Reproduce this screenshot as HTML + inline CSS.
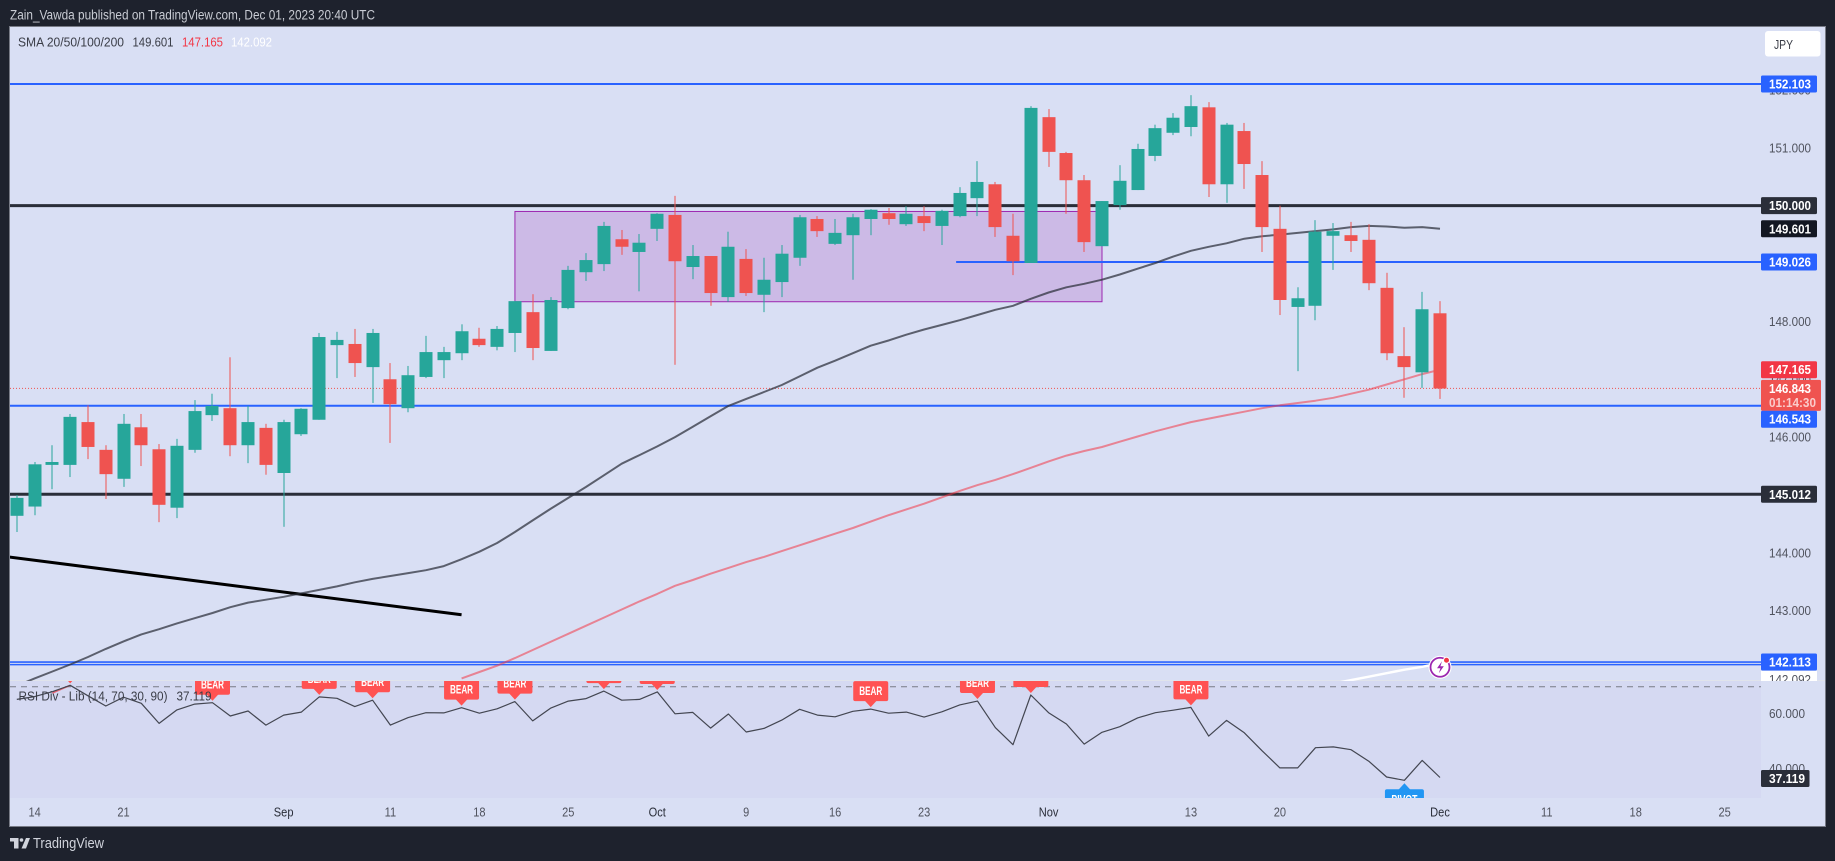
<!DOCTYPE html>
<html lang="en">
<head>
<meta charset="utf-8">
<title>USD/JPY chart</title>
<style>
html,body{margin:0;padding:0;background:#1e222d;width:1835px;height:861px;overflow:hidden}
svg{display:block;font-family:"Liberation Sans",sans-serif}
.tick{font-size:13px;fill:#50535e;text-anchor:start}
.tag{font-size:13px;fill:#ffffff;font-weight:bold}
.time{font-size:13px;fill:#50535e;text-anchor:middle}
.time-major{font-size:13px;fill:#2a2e39;text-anchor:middle}
</style>
</head>
<body>
<svg id="chart" xmlns="http://www.w3.org/2000/svg" width="1835" height="861" viewBox="0 0 1835 861">
  <defs>
    <clipPath id="main-clip"><rect x="10" y="27" width="1751" height="654"/></clipPath>
    <clipPath id="rsi-clip"><rect x="10" y="681" width="1751" height="117"/></clipPath>
    <clipPath id="axis-clip"><rect x="1761" y="27" width="64" height="654"/></clipPath>
  </defs>
  <rect x="0" y="0" width="1835" height="861" fill="#1e222d"/>
  <text x="10" y="19.5" font-size="13.5" fill="#c9ccd4" textLength="365" lengthAdjust="spacingAndGlyphs">Zain_Vawda published on TradingView.com, Dec 01, 2023 20:40 UTC</text>
  <rect x="9.5" y="26.5" width="1816" height="800" fill="#d9dff4" stroke="#787b86" stroke-width="1"/>
  <rect x="10" y="681" width="1751" height="117" fill="#d5d9f2"/>
  <line x1="10" x2="1825" y1="680.5" y2="680.5" stroke="#e0e3eb" stroke-width="1"/>
  <g id="main-pane" clip-path="url(#main-clip)"></g>
  <g id="rsi-pane" clip-path="url(#rsi-clip)"></g>
  <g id="price-axis"></g>
  <g id="time-axis"></g>

  <g font-size="13">
    <text x="18" y="46.5" fill="#3a3d47" textLength="106" lengthAdjust="spacingAndGlyphs">SMA 20/50/100/200</text>
    <text x="132.5" y="46.5" fill="#3a3d47" textLength="41" lengthAdjust="spacingAndGlyphs">149.601</text>
    <text x="182" y="46.5" fill="#f23645" textLength="41" lengthAdjust="spacingAndGlyphs">147.165</text>
    <text x="231" y="46.5" fill="#ffffff" textLength="41" lengthAdjust="spacingAndGlyphs">142.092</text>
  </g>
  <g font-size="13" fill="#3a3d47">
    <text x="18.5" y="700.5" textLength="149" lengthAdjust="spacingAndGlyphs">RSI Div - Lib (14, 70, 30, 90)</text>
    <text x="176.5" y="700.5" textLength="35" lengthAdjust="spacingAndGlyphs">37.119</text>
  </g>

  <g>
    <rect x="1765" y="31" width="55.5" height="25.5" rx="3" fill="#ffffff"/>
    <text x="1774" y="49" font-size="13" fill="#3a3d47" textLength="19" lengthAdjust="spacingAndGlyphs">JPY</text>
  </g>

  <g>
    <path d="M10 838H18.5V848.5H14V841.5H10ZM26 838H30L26 848.5H21.5Z" fill="#d1d4dc"/>
    <circle cx="21.5" cy="840" r="1.8" fill="#d1d4dc"/>
    <text x="33" y="848" font-size="15" fill="#d1d4dc" textLength="71" lengthAdjust="spacingAndGlyphs">TradingView</text>
  </g>
</svg>
<script>
// Price series, one entry per daily bar beginning 11 Aug 2023 (bar index -1)
const firstBar = -1;
const opens = [144.64,144.80,145.52,145.52,146.26,145.78,145.28,146.17,145.79,144.78,145.78,146.38,146.50,145.86,146.16,145.38,146.05,146.30,147.59,147.61,147.21,147.00,146.50,147.04,147.33,147.45,147.70,147.56,147.80,148.16,147.49,148.23,148.85,148.99,149.42,149.20,149.60,149.84,148.94,149.13,148.42,149.08,148.46,148.68,149.10,149.77,149.34,149.49,149.77,149.87,149.68,149.82,149.65,149.82,150.13,150.37,149.48,149.01,151.53,150.91,150.44,149.30,150.01,150.27,150.86,151.26,151.36,151.70,150.37,151.29,150.53,149.60,148.25,148.27,149.48,149.49,149.41,148.58,147.40,147.12,148.14];
const highs = [145.00,145.57,145.86,146.40,146.55,145.86,146.40,146.40,145.88,145.97,146.64,146.75,147.38,146.54,146.23,146.30,146.50,147.80,147.82,147.87,147.87,147.28,147.23,147.75,147.56,147.95,147.89,147.92,148.35,148.47,148.42,148.96,149.18,149.72,149.58,149.51,149.87,150.17,149.32,149.13,149.55,149.25,149.10,149.32,149.84,149.82,149.77,149.86,149.94,149.96,149.99,149.99,149.93,150.32,150.77,150.41,149.86,151.72,151.67,150.93,150.53,150.08,150.70,151.07,151.40,151.60,151.91,151.79,151.43,151.43,150.77,150.00,148.59,149.75,149.70,149.72,149.68,148.84,147.90,148.51,148.35];
const lows = [144.36,144.65,145.10,145.31,145.62,144.93,145.14,145.50,144.53,144.60,145.73,146.28,145.67,145.55,145.35,144.45,146.02,146.30,147.02,147.04,146.59,145.90,146.43,147.02,147.02,147.33,147.56,147.50,147.47,147.33,147.49,148.21,148.70,148.87,149.15,148.52,149.39,147.25,148.73,148.27,148.34,148.44,148.16,148.42,148.96,149.46,149.32,148.72,149.49,149.67,149.65,149.56,149.32,149.80,149.82,149.46,148.80,149.01,150.67,149.86,149.20,149.30,149.93,150.27,150.77,151.22,151.20,150.15,150.05,150.29,149.20,148.11,147.14,148.02,148.89,149.20,148.54,147.33,146.68,146.85,146.66];
const closes = [144.95,145.53,145.57,146.35,145.83,145.36,146.23,145.86,144.83,145.85,146.45,146.54,145.86,146.26,145.52,146.26,146.49,147.73,147.68,147.28,147.80,146.57,147.07,147.47,147.47,147.83,147.59,147.87,148.35,147.54,148.37,148.89,149.06,149.65,149.29,149.36,149.86,149.04,149.13,148.49,149.29,148.49,148.72,149.17,149.80,149.56,149.53,149.80,149.93,149.77,149.86,149.70,149.91,150.22,150.41,149.63,149.04,151.69,150.93,150.44,149.37,150.08,150.43,150.98,151.34,151.52,151.72,150.37,151.40,150.72,149.63,148.37,148.40,149.55,149.56,149.39,148.66,147.45,147.21,148.21,146.84];

// Moving averages
const sma50Start = -1;
const sma50 = [141.70,141.83,141.95,142.07,142.20,142.34,142.47,142.59,142.68,142.78,142.87,142.96,143.06,143.14,143.19,143.24,143.30,143.36,143.42,143.49,143.55,143.60,143.65,143.70,143.77,143.89,144.02,144.17,144.36,144.56,144.76,144.95,145.14,145.34,145.54,145.69,145.84,146.00,146.18,146.36,146.54,146.66,146.78,146.90,147.05,147.20,147.32,147.45,147.58,147.67,147.77,147.86,147.94,148.02,148.11,148.20,148.27,148.39,148.50,148.59,148.65,148.72,148.81,148.91,149.01,149.12,149.22,149.29,149.35,149.43,149.47,149.50,149.53,149.56,149.59,149.63,149.65,149.64,149.62,149.63,149.601];
const sma100Start = 24;
const sma100 = [141.83,141.94,142.05,142.18,142.32,142.46,142.60,142.74,142.88,143.02,143.16,143.29,143.43,143.53,143.64,143.74,143.84,143.93,144.03,144.13,144.23,144.33,144.43,144.54,144.65,144.75,144.85,144.96,145.07,145.17,145.26,145.36,145.47,145.58,145.68,145.76,145.83,145.92,146.01,146.10,146.18,146.26,146.32,146.38,146.44,146.50,146.55,146.59,146.63,146.68,146.75,146.82,146.91,147.00,147.09,147.165];
const sma200Start = 73;
const sma200 = [141.74,141.80,141.86,141.92,141.98,142.03,142.092];

// RSI series and divergence markers
const rsiStart = -1;
const rsiValues = [65.4,66.4,68.2,70.5,66.7,63.0,66.2,64.0,56.7,61.6,63.7,64.2,59.4,61.2,56.1,59.7,60.8,66.3,65.8,62.8,65.1,56.1,58.8,60.6,60.5,62.4,60.4,62.0,64.6,57.6,62.2,64.8,65.7,68.4,65.1,65.4,68.1,60.2,60.7,55.0,60.1,53.6,54.9,57.9,61.8,59.7,59.1,61.1,61.9,60.4,60.8,59.0,60.9,63.4,64.8,55.2,49.0,67.0,60.6,56.5,49.2,53.5,55.5,58.7,60.6,61.5,62.5,52.1,57.8,53.3,46.8,40.6,40.6,47.9,48.2,47.2,43.0,37.3,36.1,43.3,37.119];
const bearBars = [2,10,16,19,24,27,32,35,47,53,56,65];
const pivotBars = [77];
const divergenceBars = [1,2];
const divergenceValues = [67.7,70.5];

// Axis ticks and labels
const priceTicks = [152,151,150,149,148,147,146,145,144,143];
const rsiTicks = [60,40];
const timeTickBars = [0,5,20,25,30,40,45,50,65,70,85,90,95];
const timeTickLabels = ['14','21','11','18','25','9','16','23','13','20','11','18','25'];
const monthTickBars = [14,35,57,79];
const monthTickLabels = ['Sep','Oct','Nov','Dec'];

// Drawn levels and the trend line
const blueLevels = [152.103,146.543];
const shortBlueLevelPrice = 149.026;
const shortBlueStartBar = 51.8;
const darkLevels = [150,145.012];
const doubleBlueLevels = [142.113,142.068];
const rangeStartBar = 27;
const rangeEndBar = 60;
const rangeTop = 149.90;
const rangeBottom = 148.34;
const trendBars = [-2,24];
const trendPrices = [143.95,142.93];
const lastPrice = 146.843;

const X_ORIGIN = 34.6, BAR_STEP = 17.79;
function xOf(bar){ return X_ORIGIN + BAR_STEP * bar; }
function yOf(price){ return 84 + (152.103 - price) * 57.86; }
function yRsi(value){ return 686.7 + (70 - value) * 2.761; }

const NS = 'http://www.w3.org/2000/svg';
function make(tag, attrs, parent, text){
  const el = document.createElementNS(NS, tag);
  for (const k in attrs) el.setAttribute(k, attrs[k]);
  if (text !== undefined) el.textContent = text;
  parent.appendChild(el);
  return el;
}
function squeeze(el){
  el.setAttribute('textLength', (el.getComputedTextLength() * 0.85).toFixed(1));
  el.setAttribute('lengthAdjust', 'spacingAndGlyphs');
}

const mainPane = document.getElementById('main-pane');
const rsiPane = document.getElementById('rsi-pane');
const priceAxis = document.getElementById('price-axis');
const timeAxis = document.getElementById('time-axis');

// consolidation range
const rangeBox = make('rect', {x:xOf(rangeStartBar), y:yOf(rangeTop), width:xOf(rangeEndBar)-xOf(rangeStartBar), height:yOf(rangeBottom)-yOf(rangeTop), fill:'#9c27b0', 'fill-opacity':'0.2', stroke:'#9c27b0', 'stroke-width':'1'}, mainPane);



// horizontal levels
blueLevels.forEach(function(p){
  const l = make('line', {x1:10, x2:1761, y1:yOf(p), y2:yOf(p), stroke:'#2962ff', 'stroke-width':'2'}, mainPane);
  
  
});
const shortLevel = make('line', {x1:xOf(shortBlueStartBar), x2:1761, y1:yOf(shortBlueLevelPrice), y2:yOf(shortBlueLevelPrice), stroke:'#2962ff', 'stroke-width':'2'}, mainPane);


doubleBlueLevels.forEach(function(p){
  const l = make('line', {x1:10, x2:1761, y1:yOf(p), y2:yOf(p), stroke:'#2962ff', 'stroke-width':'1.6'}, mainPane);
  
  
});
darkLevels.forEach(function(p){
  const l = make('line', {x1:10, x2:1761, y1:yOf(p), y2:yOf(p), stroke:'#2a2e39', 'stroke-width':'3'}, mainPane);
  
  
});
const lastLine = make('line', {x1:10, x2:1761, y1:yOf(lastPrice), y2:yOf(lastPrice), stroke:'#ef5350', 'stroke-width':'1', 'stroke-dasharray':'1 2'}, mainPane);



const trend = make('line', {x1:xOf(trendBars[0]), x2:xOf(trendBars[1]), y1:yOf(trendPrices[0]), y2:yOf(trendPrices[1]), stroke:'#000000', 'stroke-width':'3'}, mainPane);



// moving averages
function linePoints(values, start, yFn){
  return values.map(function(v, i){ return xOf(start + i).toFixed(1) + ',' + yFn(v).toFixed(1); }).join(' ');
}
const sma50Line = make('polyline', {points:linePoints(sma50, sma50Start, yOf), fill:'none', stroke:'#2a2e39', 'stroke-opacity':'0.72', 'stroke-width':'2', 'stroke-linejoin':'round'}, mainPane);


const sma100Line = make('polyline', {points:linePoints(sma100, sma100Start, yOf), fill:'none', stroke:'#f23645', 'stroke-opacity':'0.55', 'stroke-width':'2', 'stroke-linejoin':'round'}, mainPane);


const sma200Line = make('polyline', {points:linePoints(sma200, sma200Start, yOf), fill:'none', stroke:'#ffffff', 'stroke-width':'2.5'}, mainPane);



// candles
opens.forEach(function(open, i){
  const bar = firstBar + i;
  const close = closes[i];
  const up = close >= open;
  const color = up ? '#26a69a' : '#ef5350';
  const cx = xOf(bar);
  const top = yOf(Math.max(open, close));
  const bottom = yOf(Math.min(open, close));
  const g = make('g', {}, mainPane);
  
  
  const wick = make('rect', {x:Math.round(cx)-0.5, y:yOf(highs[i]), width:1, height:yOf(lows[i])-yOf(highs[i]), fill:color}, g);
  
  
  const body = make('rect', {x:Math.round(cx)-6.5, y:top, width:13, height:Math.max(1, bottom-top), fill:color}, g);
  
  
});

// alert icon at the end of the SMA 200 line
const iconX = xOf(firstBar + opens.length - 1), iconY = yOf(sma200[sma200.length-1]) + 4;
const icon = make('g', {}, mainPane);


make('circle', {cx:iconX, cy:iconY, r:11.5, fill:'#ffffff'}, icon);
make('circle', {cx:iconX, cy:iconY, r:9.5, fill:'#ffffff', stroke:'#9c27b0', 'stroke-width':'1.8'}, icon);
make('path', {d:'M'+(iconX+2)+' '+(iconY-6)+'l-5 7h3.4l-1.6 5 5-7h-3.4z', fill:'#9c27b0'}, icon);
make('circle', {cx:iconX+6.5, cy:iconY-7, r:3, fill:'#f23645', stroke:'#ffffff', 'stroke-width':'1'}, icon);

// RSI pane
const upperBand = make('line', {x1:10, x2:1761, y1:yRsi(70), y2:yRsi(70), stroke:'#787b86', 'stroke-width':'1', 'stroke-dasharray':'6 5'}, rsiPane);


const divLine = make('polyline', {points:divergenceBars.map(function(b, i){ return xOf(b) + ',' + yRsi(divergenceValues[i]); }).join(' '), fill:'none', stroke:'#f23645', 'stroke-opacity':'0.7', 'stroke-width':'1.5'}, rsiPane);


const rsiLine = make('polyline', {points:linePoints(rsiValues, rsiStart, yRsi), fill:'none', stroke:'#434651', 'stroke-width':'1.2', 'stroke-linejoin':'round'}, rsiPane);



bearBars.forEach(function(bar){
  const cx = xOf(bar);
  const tip = yRsi(rsiValues[bar - rsiStart]) - 2;
  const g = make('g', {}, rsiPane);
  
  
  make('rect', {x:cx-17.5, y:tip-26, width:35, height:20, rx:2, fill:'#ff5252'}, g);
  make('path', {d:'M'+(cx-6)+' '+(tip-6.5)+'L'+cx+' '+tip+'L'+(cx+6)+' '+(tip-6.5)+'Z', fill:'#ff5252'}, g);
  make('text', {x:cx-11.5, y:tip-12, 'font-size':'12', 'font-weight':'bold', fill:'#ffffff', textLength:'23', lengthAdjust:'spacingAndGlyphs'}, g, 'BEAR');
});
pivotBars.forEach(function(bar){
  const cx = xOf(bar);
  const tip = yRsi(rsiValues[bar - rsiStart]) + 3;
  const g = make('g', {}, rsiPane);
  
  
  make('path', {d:'M'+(cx-6)+' '+(tip+6.5)+'L'+cx+' '+tip+'L'+(cx+6)+' '+(tip+6.5)+'Z', fill:'#2196f3'}, g);
  make('rect', {x:cx-19.5, y:tip+6, width:39, height:20, rx:2, fill:'#2196f3'}, g);
  make('text', {x:cx-13, y:tip+20, 'font-size':'12', 'font-weight':'bold', fill:'#ffffff', textLength:'26', lengthAdjust:'spacingAndGlyphs'}, g, 'PIVOT');
});

// price axis ticks
priceTicks.forEach(function(p){
  const t = make('text', {class:'tick', x:1769, y:yOf(p)+4.5, textLength:'42', lengthAdjust:'spacingAndGlyphs'}, priceAxis, p.toFixed(3));
  
  
});
rsiTicks.forEach(function(r){
  const t = make('text', {class:'tick', x:1769, y:yRsi(r)+3.5, textLength:'36', lengthAdjust:'spacingAndGlyphs'}, priceAxis, r.toFixed(3));
  
  
});

// price tags
function priceTag(text, cy, fill, width){
  const g = make('g', {}, priceAxis);
  
  
  make('rect', {x:1761, y:cy-8.5, width:width, height:17, rx:1.5, fill:fill}, g);
  make('text', {class:'tag', x:1769, y:cy+4.5, textLength:'42', lengthAdjust:'spacingAndGlyphs'}, g, text);
}
priceTag(blueLevels[0].toFixed(3), yOf(blueLevels[0]), '#2962ff', 56);
priceTag(shortBlueLevelPrice.toFixed(3), yOf(shortBlueLevelPrice), '#2962ff', 56);
priceTag(doubleBlueLevels[0].toFixed(3), yOf(doubleBlueLevels[0]), '#2962ff', 56);
darkLevels.forEach(function(p){
  priceTag(p.toFixed(3), yOf(p), '#2a2e39', 56);
});
priceTag(sma50[sma50.length-1].toFixed(3), yOf(sma50[sma50.length-1]), '#131722', 56);
priceTag(sma100[sma100.length-1].toFixed(3), yOf(sma100[sma100.length-1]), '#f23645', 56);

// SMA 200 tag, partly hidden by the RSI pane
const whiteTag = make('g', {'clip-path':'url(#axis-clip)'}, priceAxis);


make('rect', {x:1761, y:671, width:56, height:17, fill:'#ffffff'}, whiteTag);
make('text', {class:'tick', x:1769, y:684, textLength:'42', lengthAdjust:'spacingAndGlyphs'}, whiteTag, sma200[sma200.length-1].toFixed(3));

// current price tag with countdown
const lastTag = make('g', {}, priceAxis);


make('rect', {x:1761, y:yOf(lastPrice)-8.5, width:60, height:31, rx:1.5, fill:'#ef5350'}, lastTag);
make('text', {class:'tag', x:1769, y:yOf(lastPrice)+4.5, textLength:'42', lengthAdjust:'spacingAndGlyphs'}, lastTag, lastPrice.toFixed(3));
make('text', {class:'tag', x:1769, y:yOf(lastPrice)+18.5, textLength:'47', lengthAdjust:'spacingAndGlyphs', 'fill-opacity':'0.7'}, lastTag, '01:14:30');
// the 146.543 tag sits directly below the last-price tag
priceTag(blueLevels[1].toFixed(3), yOf(blueLevels[1])+13.5, '#2962ff', 56);

// RSI value tag
const rsiLast = rsiValues[rsiValues.length-1];
const rsiTag = make('g', {}, priceAxis);


make('rect', {x:1761, y:770, width:48.5, height:17, rx:1.5, fill:'#2a2e39'}, rsiTag);
make('text', {class:'tag', x:1769, y:783, textLength:'36', lengthAdjust:'spacingAndGlyphs'}, rsiTag, rsiLast.toFixed(3));

// time axis
timeTickBars.forEach(function(bar, i){
  const t = make('text', {class:'time', x:xOf(bar), y:816.5}, timeAxis, timeTickLabels[i]);
  
  
  squeeze(t);
});
monthTickBars.forEach(function(bar, i){
  const t = make('text', {class:'time-major', x:xOf(bar), y:816.5}, timeAxis, monthTickLabels[i]);
  
  
  squeeze(t);
});
</script>
</body>
</html>
